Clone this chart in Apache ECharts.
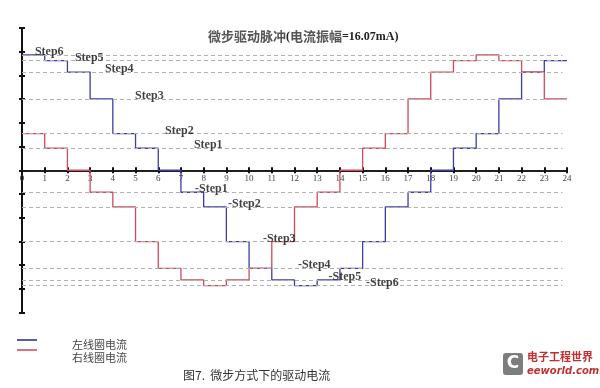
<!DOCTYPE html>
<html><head><meta charset="utf-8">
<script src="https://cdn.jsdelivr.net/npm/echarts@6/dist/echarts.min.js"></script>
<style>html,body{margin:0;padding:0;background:#fff}#c{width:600px;height:388px}</style>
</head><body><div id="c"></div>
<script>
// x tick labels
const xTicks = [0,1,2,3,4,5,6,7,8,9,10,11,12,13,14,15,16,17,18,19,20,21,22,23,24];
// start time of each micro-step
const stepTimes = [0,1,2,3,4,5,6,7,8,9,10,11,12,13,14,15,16,17,18,19,20,21,22,23];
const endTime = 24;
// current values (mA) of each micro-step
const leftCoil  = [16.07,15.27,13.66,9.93,5.10,3.06,0,-3.06,-5.10,-9.93,-13.66,-15.27,-16.07,-15.27,-13.66,-9.93,-5.10,-3.06,0,3.06,5.10,9.93,13.66,15.27];
const rightCoil = [5.10,3.06,0,-3.06,-5.10,-9.93,-13.66,-15.27,-16.07,-15.27,-13.66,-9.93,-5.10,-3.06,0,3.06,5.10,9.93,13.66,15.27,16.07,15.27,13.66,9.93];
// step levels (mA)
const levelNames  = ['Step1','Step2','Step3','Step4','Step5','Step6'];
const levelValues = [3.06,5.10,9.93,13.66,15.27,16.07];
const posLabelT = [7.57,6.30,4.98,3.65,2.33,0.57];
const negLabelT = [7.62,9.07,10.61,12.15,13.5,15.15];
const seriesNames = ['左线圈电流','右线圈电流'];
const titleParts = ['微步驱动脉冲','(','电流振幅','=16.07mA)'];
const captionText = '图7.  微步方式下的驱动电流';

const chart = echarts.init(document.getElementById('c'), null, {renderer:'canvas'});
const toSteps = (vals) => stepTimes.map((t,i)=>[t, vals[i]]).concat([[endTime, vals[vals.length-1]]]);

const refLines = [];
levelValues.forEach(v => {
  refLines.push([{coord:[0, v]},{coord:[23.8, v]}]);
  refLines.push([{coord:[0, -v]},{coord:[23.8, -v]}]);
});
const labelData = [];
levelValues.forEach((v,i) => {
  labelData.push([posLabelT[i], v, levelNames[i]]);
  labelData.push([negLabelT[i], -v, '-' + levelNames[i]]);
});

const yBase = {type:'value', min:-19.8, max:19.8, interval:3.3, position:'left',
  axisLine:{show:true, onZero:false, lineStyle:{color:'#111', width:2}},
  axisLabel:{show:false}, splitLine:{show:false}};
// x axis drawn through the zero line of the y axis (grid is symmetric)
const xBase = {type:'value', min:0, max:24, interval:1, position:'bottom', offset:-142.25,
  axisLine:{show:true, onZero:false, lineStyle:{color:'#111', width:1.5}},
  splitLine:{show:false}};

chart.setOption({
  animation:false,
  backgroundColor:'#fff',
  title:{
    left:208, top:30, padding:0,
    text:'{a|'+titleParts[0]+'}{b|'+titleParts[1]+'}{a|'+titleParts[2]+'}{b|'+titleParts[3]+'}',
    textStyle:{rich:{
      a:{fontFamily:'Noto Sans CJK SC', fontSize:13, color:'#555'},
      b:{fontFamily:'Liberation Serif', fontSize:12, fontWeight:'bold', color:'#222'}
    }}
  },
  grid:{left:22, right:33, top:28, bottom:75.5, containLabel:false},
  xAxis:[
    Object.assign({}, xBase, {
      axisTick:{show:true, inside:false, length:3, lineStyle:{color:'#111', width:2}},
      axisLabel:{show:true, margin:4, fontFamily:'Liberation Serif', fontSize:9, color:'#444',
        formatter:(v)=> xTicks.indexOf(v) >= 0 ? String(v) : ''}
    }),
    Object.assign({}, xBase, {
      axisTick:{show:true, inside:true, length:3, lineStyle:{color:'#111', width:2}},
      axisLabel:{show:false}
    })
  ],
  yAxis:[
    Object.assign({}, yBase, {axisTick:{show:true, inside:false, length:3, lineStyle:{color:'#111', width:2}}}),
    Object.assign({}, yBase, {axisTick:{show:true, inside:true, length:3, lineStyle:{color:'#111', width:2}}})
  ],
  series:[
    {
      name:seriesNames[0], type:'line', step:'end', symbol:'none',
      xAxisIndex:0, yAxisIndex:0,
      lineStyle:{color:'#3c3ca8', width:1.3},
      data:toSteps(leftCoil),
      markLine:{silent:true, symbol:'none', label:{show:false},
        lineStyle:{color:'#b0b0b0', type:[4,3], width:1},
        data:refLines},
      z:3
    },
    {
      name:seriesNames[1], type:'line', step:'end', symbol:'none',
      xAxisIndex:0, yAxisIndex:0,
      lineStyle:{color:'#d04a5a', width:1.3},
      data:toSteps(rightCoil),
      z:4
    },
    {
      type:'scatter', symbolSize:0, xAxisIndex:0, yAxisIndex:0, silent:true,
      data:labelData,
      label:{show:true, position:[0,0], align:'left', verticalAlign:'middle', offset:[0,-3],
        formatter:(p)=>p.data[2],
        fontFamily:'Liberation Serif', fontWeight:'bold', fontSize:12, color:'#111'},
      z:5
    }
  ],
  graphic:[
    {type:'line', shape:{x1:17, y1:340, x2:37, y2:340}, style:{stroke:'#1c2a80', lineWidth:1.5}},
    {type:'line', shape:{x1:17, y1:350, x2:37, y2:350}, style:{stroke:'#c84455', lineWidth:1.5}},
    {type:'text', left:72, top:339, style:{text:seriesNames[0], font:'11px "Noto Sans CJK SC"', fill:'#444'}},
    {type:'text', left:72, top:352, style:{text:seriesNames[1], font:'11px "Noto Sans CJK SC"', fill:'#444'}},
    {type:'text', left:183, top:369, style:{text:captionText, font:'12px "Noto Sans CJK SC"', fill:'#333'}},
    {type:'rect', shape:{x:503, y:353, width:20, height:22, r:3}, style:{fill:'#7d7d7d'}},
    {type:'text', x:513, y:364, style:{text:'C', font:'bold 17px "DejaVu Sans"', fill:'#fff', align:'center', verticalAlign:'middle'}},
    {type:'text', x:527, y:351, style:{text:'电子工程世界', font:'bold 11px "Noto Sans CJK SC"', fill:'#c03030'}},
    {type:'text', x:527, y:366, style:{text:'eeworld.com.cn', font:'italic bold 10px "DejaVu Sans"', fill:'#c03030'}}
  ]
});
</script></body></html>
